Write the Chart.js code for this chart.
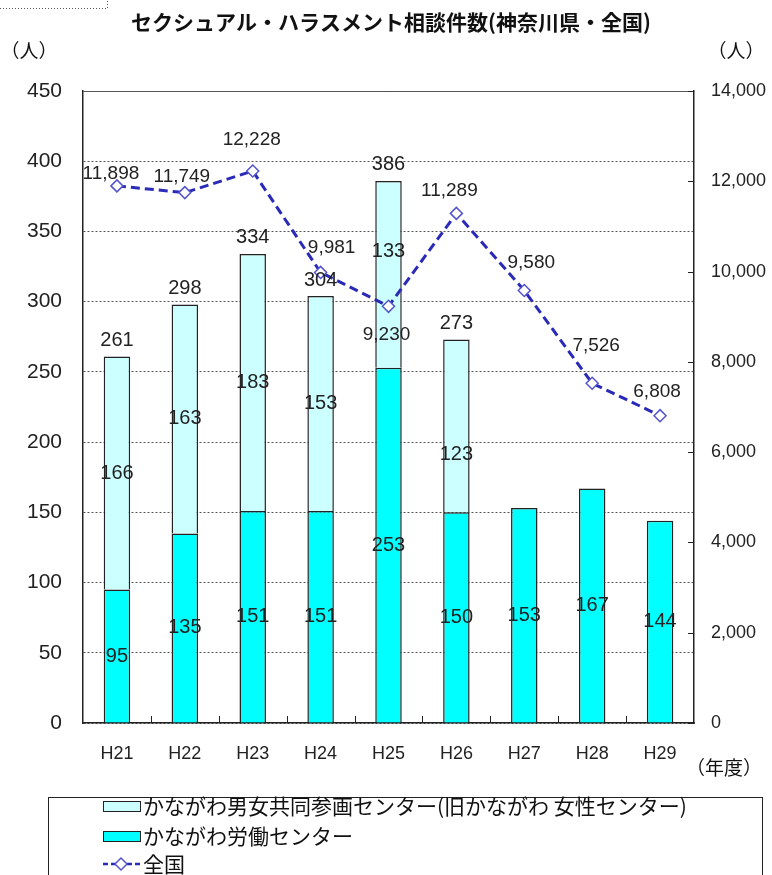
<!DOCTYPE html>
<html lang="ja">
<head>
  <meta charset="UTF-8" />
  <title>セクシュアル・ハラスメント相談件数（神奈川県・全国）</title>
  <style>
    html, body { margin: 0; padding: 0; background: #fff; }
    canvas { display: block; }
  </style>
</head>
<body>
  <canvas id="chart" width="772" height="875"></canvas>

  <script src="https://cdn.jsdelivr.net/npm/chart.js"></script>
  <script>
const years = ['H21', 'H22', 'H23', 'H24', 'H25', 'H26', 'H27', 'H28', 'H29'];
// かながわ労働センター (lower part of the bars)
const roudou = [95, 135, 151, 151, 253, 150, 153, 167, 144];
// かながわ男女共同参画センター (upper part, ends in H26)
const danjo = [166, 163, 183, 153, 133, 123, null, null, null];
// 全国 (right axis)
const zenkoku = [11898, 11749, 12228, 9981, 9230, 11289, 9580, 7526, 6808];

const labelDanjo = 'かながわ男女共同参画センター(旧かながわ 女性センター)';
const labelRoudou = 'かながわ労働センター';
const labelZenkoku = '全国';

const NUM_FONT = '"Liberation Sans", Arial, sans-serif';
const JP_FONT = '"Noto Sans CJK JP", sans-serif';

// where the labels of the line sit, relative to each point (px)
const lineLabelShift = [[-6, -12], [-3, -16], [-1, -31], [11, -25], [-2, 28], [-7, -23], [7, -28], [4, -37], [-3, -24]];
// a couple of the upper labels were nudged by hand in the original
const upperLabelShift = [0, 0, 0, 0, -23, 29, 0, 0, 0];

const fmt = v => v.toLocaleString('en-US');

// titles, axis units, data labels, inward ticks, legend box
const extras = {
  id: 'extras',
  afterDraw(chart) {
    const { ctx, chartArea: a, scales: { x, y, y2 } } = chart;
    ctx.save();

    // dotted scrap of a box at the top left
    ctx.strokeStyle = '#555';
    ctx.lineWidth = 1;
    ctx.setLineDash([1, 2]);
    ctx.beginPath();
    ctx.moveTo(0, 8.5); ctx.lineTo(107.5, 8.5); ctx.lineTo(107.5, 0);
    ctx.stroke();
    ctx.setLineDash([]);

    // plot frame
    ctx.strokeStyle = '#555';
    ctx.beginPath();
    ctx.moveTo(a.left, a.top + 0.5); ctx.lineTo(a.right, a.top + 0.5);
    ctx.stroke();

    // inward ticks on x axis (between categories) and right axis
    ctx.strokeStyle = '#222';
    ctx.beginPath();
    for (let i = 0; i < years.length - 1; i++) {
      const px = Math.round((x.getPixelForValue(i) + x.getPixelForValue(i + 1)) / 2) + 0.5;
      ctx.moveTo(px, a.bottom); ctx.lineTo(px, a.bottom - 7);
    }
    y2.ticks.forEach(t => {
      const py = Math.round(y2.getPixelForValue(t.value)) + 0.5;
      ctx.moveTo(a.right, py); ctx.lineTo(a.right - 6, py);
    });
    ctx.stroke();

    // title and units
    ctx.fillStyle = '#111';
    ctx.textAlign = 'center';
    ctx.textBaseline = 'middle';
    ctx.font = 'bold 21px ' + JP_FONT;
    ctx.fillText('セクシュアル・ハラスメント相談件数(神奈川県・全国)', 391, 22);
    ctx.font = '19px ' + JP_FONT;
    ctx.fillText('（人）', 29, 51);
    ctx.fillText('（人）', 736, 51);
    ctx.fillText('（年度）', 724, 768);

    // bar labels
    ctx.fillStyle = '#222';
    ctx.font = '20px ' + NUM_FONT;
    const lower = chart.getDatasetMeta(0).data;
    const upper = chart.getDatasetMeta(1).data;
    roudou.forEach((v, i) => {
      const el = lower[i];
      ctx.fillText(String(v), el.x, (el.y + el.base) / 2);
    });
    danjo.forEach((v, i) => {
      if (v == null) return;
      const el = upper[i];
      ctx.fillText(String(v), el.x, (el.y + el.base) / 2 + upperLabelShift[i]);
      const total = roudou[i] + v;
      ctx.fillText(String(total), el.x, y.getPixelForValue(total) - 16);
    });

    // line labels
    ctx.font = '19px ' + NUM_FONT;
    const pts = chart.getDatasetMeta(2).data;
    zenkoku.forEach((v, i) => {
      const p = pts[i];
      ctx.fillText(fmt(v), p.x + lineLabelShift[i][0], p.y + lineLabelShift[i][1]);
    });

    // legend box
    const ds = chart.data.datasets;
    ctx.strokeStyle = '#222';
    ctx.lineWidth = 1;
    ctx.strokeRect(48.5, 797.5, 714, 90);
    ctx.textAlign = 'left';
    ctx.font = '21px ' + JP_FONT;
    const rows = [806, 836, 864];
    [1, 0].forEach((d, r) => {
      ctx.fillStyle = ds[d].backgroundColor;
      ctx.fillRect(103, rows[r] - 5, 37, 10);
      ctx.strokeStyle = '#222';
      ctx.strokeRect(103.5, rows[r] - 4.5, 37, 10);
      ctx.fillStyle = '#111';
      ctx.fillText(ds[d].label, 143, rows[r]);
    });
    const ly = rows[2];
    ctx.strokeStyle = ds[2].borderColor;
    ctx.lineWidth = 2.5;
    ctx.setLineDash([5, 3]);
    ctx.beginPath();
    ctx.moveTo(103, ly); ctx.lineTo(140, ly);
    ctx.stroke();
    ctx.setLineDash([]);
    ctx.fillStyle = '#fff';
    ctx.strokeStyle = ds[2].pointBorderColor;
    ctx.lineWidth = 1.5;
    ctx.beginPath();
    ctx.moveTo(121, ly - 6); ctx.lineTo(127, ly); ctx.lineTo(121, ly + 6); ctx.lineTo(115, ly);
    ctx.closePath();
    ctx.fill(); ctx.stroke();
    ctx.fillStyle = '#111';
    ctx.fillText(ds[2].label, 143, ly);

    ctx.restore();
  }
};

Chart.defaults.font.family = NUM_FONT;
Chart.defaults.color = '#222';

new Chart(document.getElementById('chart'), {
  type: 'bar',
  data: {
    labels: years,
    datasets: [
      {
        label: labelRoudou,
        data: roudou,
        backgroundColor: '#00ffff',
        borderColor: '#222',
        borderWidth: 1.5,
        barPercentage: 0.39,
        categoryPercentage: 1,
        yAxisID: 'y',
        order: 2
      },
      {
        label: labelDanjo,
        data: danjo,
        backgroundColor: '#ccffff',
        borderColor: '#222',
        borderWidth: 1.5,
        barPercentage: 0.39,
        categoryPercentage: 1,
        yAxisID: 'y',
        order: 2
      },
      {
        type: 'line',
        label: labelZenkoku,
        data: zenkoku,
        yAxisID: 'y2',
        borderColor: '#2a2ab8',
        borderWidth: 3,
        borderDash: [9, 5],
        tension: 0,
        fill: false,
        pointStyle: 'rectRot',
        pointRadius: 6,
        pointBackgroundColor: '#fff',
        pointBorderColor: '#5454cc',
        pointBorderWidth: 1.5,
        order: 0
      }
    ]
  },
  options: {
    responsive: false,
    animation: false,
    layout: { padding: { top: 91, left: 0, right: 0, bottom: 0 } },
    plugins: {
      legend: { display: false },
      tooltip: { enabled: false }
    },
    scales: {
      x: {
        stacked: true,
        grid: { display: false, drawTicks: false },
        border: { display: true, color: '#222', width: 1.5 },
        ticks: { font: { size: 18 }, padding: 20, color: '#222' },
        afterFit(s) { s.height = 152; }
      },
      y: {
        stacked: true,
        position: 'left',
        min: 0,
        max: 450,
        grid: { color: '#555', lineWidth: 1, drawTicks: false },
        border: { display: true, color: '#222', width: 1.5, dash: [2, 2] },
        ticks: { stepSize: 50, font: { size: 21 }, padding: 21, color: '#222' },
        afterFit(s) { s.width = 83; }
      },
      y2: {
        position: 'right',
        stacked: false,
        min: 0,
        max: 14000,
        grid: { display: false, drawTicks: false },
        border: { display: true, color: '#222', width: 1.5 },
        ticks: { stepSize: 2000, font: { size: 18 }, padding: 17, color: '#222', callback: v => fmt(v) },
        afterFit(s) { s.width = 78; }
      }
    }
  },
  plugins: [extras]
});
  </script>
</body>
</html>
